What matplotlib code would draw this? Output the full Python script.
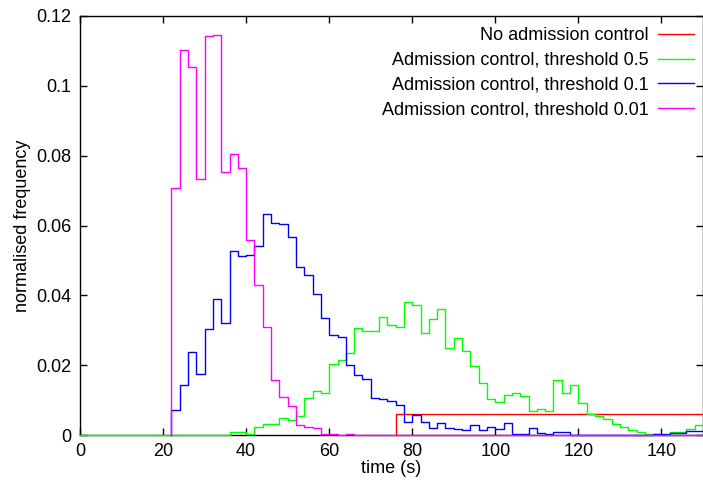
import numpy as np
import matplotlib.pyplot as plt
from matplotlib.ticker import FormatStrFormatter

plt.rcParams['font.family'] = ['Liberation Sans', 'DejaVu Sans']
plt.rcParams['font.size'] = 13

# histogram bins are 2 s wide, every series runs to 150 s
bin_width = 2
x_end = 150

labels = [
    'No admission control',
    'Admission control, threshold 0.5',
    'Admission control, threshold 0.1',
    'Admission control, threshold 0.01',
]
colors = ['#ff0000', '#00ff00', '#0000ff', '#ff00ff']

# first bin edge of each series (s)
starts = [76, 0, 22, 22]

no_ac = [0.0059] * 37

thr_05 = [0.0] * 18 + [
    0.0010, 0.0008, 0.0002, 0.0024, 0.0031, 0.0031, 0.0049, 0.0043, 0.0055, 0.0105,
    0.0126, 0.0119, 0.0202, 0.0215, 0.0234, 0.0307, 0.0298, 0.0298, 0.0339, 0.0315,
    0.0310, 0.0382, 0.0372, 0.0293, 0.0331, 0.0360, 0.0248, 0.0277, 0.0241, 0.0198,
    0.0150, 0.0103, 0.0094, 0.0115, 0.0121, 0.0113, 0.0070, 0.0074, 0.0070, 0.0158,
    0.0121, 0.0142, 0.0091, 0.0059, 0.0054, 0.0047, 0.0031, 0.0022, 0.0014, 0.0009,
    0.0003, 0.0003, 0.0000, 0.0010, 0.0010, 0.0017, 0.0029,
]

thr_01 = [
    0.0072, 0.0142, 0.0237, 0.0176, 0.0305, 0.0390, 0.0320, 0.0527, 0.0513, 0.0515,
    0.0541, 0.0634, 0.0607, 0.0605, 0.0566, 0.0482, 0.0458, 0.0405, 0.0334, 0.0286,
    0.0281, 0.0200, 0.0172, 0.0159, 0.0107, 0.0102, 0.0098, 0.0086, 0.0036, 0.0057,
    0.0036, 0.0019, 0.0033, 0.0019, 0.0018, 0.0014, 0.0029, 0.0014, 0.0022, 0.0018,
    0.0033, 0.0003, 0.0003, 0.0019, 0.0005, 0.0002, 0.0010, 0.0010,
    0.0, 0.0, 0.0, 0.0, 0.0, 0.0, 0.0, 0.0, 0.0, 0.0,
    0.0003, 0.0003, 0.0007, 0.0007, 0.0012, 0.0012,
]

thr_001 = [
    0.0708, 0.1103, 0.1054, 0.0734, 0.1143, 0.1145, 0.0753, 0.0806, 0.0766, 0.0558,
    0.0429, 0.0310, 0.0158, 0.0108, 0.0083, 0.0030, 0.0023, 0.0019, 0.0003, 0.0002,
    0.0000, 0.0004,
]

series = [no_ac, thr_05, thr_01, thr_001]

x_ticks = [0, 20, 40, 60, 80, 100, 120, 140]
y_ticks = [0, 0.02, 0.04, 0.06, 0.08, 0.1, 0.12]

fig = plt.figure(figsize=(7.03, 4.82), dpi=100)
ax = fig.add_axes([80 / 703, 47 / 482, 623 / 703, 419 / 482])

for start, vals, col, lab in zip(starts, series, colors, labels):
    n_bins = (x_end - start) // bin_width
    v = np.zeros(n_bins)
    v[:len(vals)] = vals
    edges = start + bin_width * np.arange(n_bins + 1)
    xs = np.r_[start, edges]
    ys = np.r_[0.0, v, v[-1]]
    ax.plot(xs, ys, drawstyle='steps-post', color=col, lw=1.0,
            label=lab, clip_on=False, zorder=3)

ax.set_xlim(0, 150)
ax.set_ylim(0, 0.12)
ax.set_xticks(x_ticks)
ax.set_yticks(y_ticks)
ax.yaxis.set_major_formatter(FormatStrFormatter('%g'))
ax.tick_params(direction='in', length=5, width=1, top=True, right=True, pad=6)
for s in ax.spines.values():
    s.set_linewidth(1.0)

ax.set_xlabel('time (s)', labelpad=0)
ax.set_ylabel('normalised frequency', labelpad=4)

ax.legend(loc='upper right', bbox_to_anchor=(1.006, 1.003), frameon=False,
          markerfirst=False, handlelength=2.0, handletextpad=0.5,
          labelspacing=0.42, borderaxespad=0.3)

fig.savefig('out.png', dpi=100)
